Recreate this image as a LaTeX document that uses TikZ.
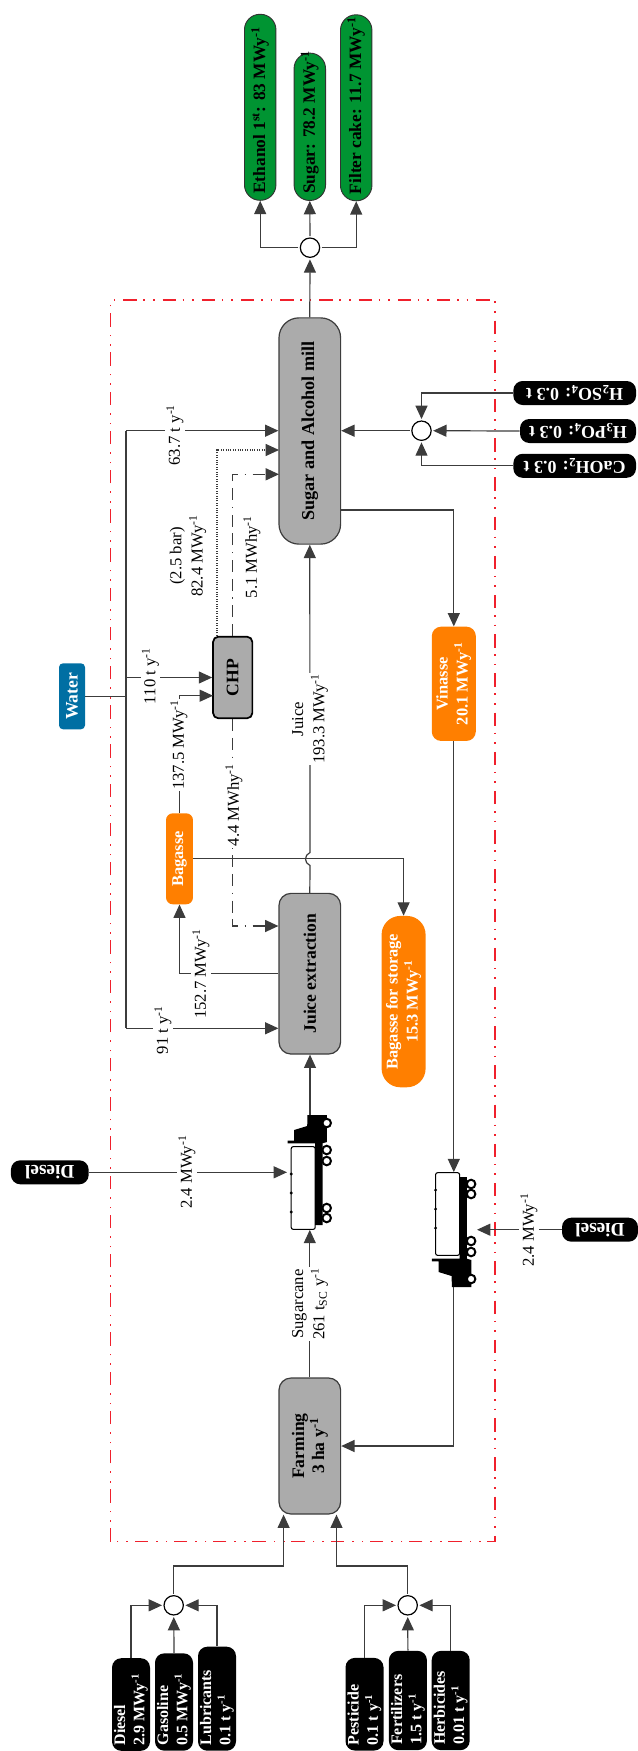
\documentclass[tikz,border=0pt]{standalone}
\usepackage{fontspec}
\setmainfont{Liberation Serif}
\usetikzlibrary{arrows.meta, calc}
\definecolor{procgray}{HTML}{ABABAB}
\definecolor{prodgreen}{HTML}{009432}
\definecolor{flowgray}{HTML}{3C3C3C}
\definecolor{wasteorange}{HTML}{FF7F00}
\definecolor{waterblue}{HTML}{006FA3}
\definecolor{limitred}{HTML}{F0202C}
\newcommand{\yinv}{y\textsuperscript{-1}}
\tikzset{
  vbox/.style={rotate=90, align=center, inner sep=0pt, font=\bfseries\fontsize{13.2}{15}\selectfont},
  proc/.style={vbox, draw=flowgray, fill=procgray, line width=0.9pt, rounded corners=9pt},
  prod/.style={vbox, draw=black!80, fill=prodgreen, line width=0.7pt, rounded corners=11.6pt, minimum height=23.6pt,
               align=flush left, inner xsep=5pt, font=\bfseries\fontsize{13}{15}\selectfont},
  waste/.style={vbox, fill=wasteorange, text=white, rounded corners=7pt, font=\bfseries\fontsize{12.3}{15}\selectfont},
  feed/.style={vbox, fill=black, text=white, rounded corners=7pt, minimum height=28.5pt, font=\bfseries\fontsize{12}{14.5}\selectfont},
  inflow/.style={feed, align=flush left, inner xsep=4pt},
  flip/.style={feed, rotate=90, minimum height=18pt, font=\bfseries\fontsize{13.5}{15}\selectfont},
  mix/.style={circle, draw=black, fill=white, line width=0.9pt, minimum size=14.5pt, inner sep=0pt, outer sep=1.5pt},
  flow/.style={-{Stealth[length=10pt, width=9pt, inset=0pt]}, line width=0.9pt, draw=flowgray},
  pipe/.style={line width=0.9pt, draw=flowgray},
  lbl/.style={rotate=90, align=center, fill=white, inner sep=1pt, font=\fontsize{12.5}{16}\selectfont},
  tankbox/.style={draw=black, fill=white, line width=0.8pt, rounded corners=1.5pt, inner sep=0pt, minimum width=18pt, minimum height=62pt},
  limit/.style={draw=limitred, line width=1.1pt, dash pattern=on 10pt off 5pt on 1.2pt off 6pt on 1.2pt off 6pt},
  steam/.style={densely dotted, line width=0.8pt, draw=flowgray},
  power/.style={line width=1.1pt, draw=flowgray, dash pattern=on 9pt off 5pt on 9pt off 5pt on 1pt off 5pt},
  pics/truck/.style={code={
    \fill[black] (4.3,-73) -- (23.7,-73) -- (23.7,-46) -- (19.3,-44.7) -- (19.3,37) -- (12,37) -- (12,-44.7)
      -- (-15.7,-44.7) -- (-15.7,-47.3) -- (-9,-47.3) -- (-9,-58) -- (4,-62) -- cycle;
    \foreach \wy in {-65,-38,-27,20,30}
      \draw[black, fill=white, line width=1.5pt] (23.5,\wy) circle (3.2pt);
    \foreach \wy in {-14,5,24}
      \fill[black] (-12,\wy) circle (1.2pt);
  }},
}
\begin{document}
\begin{tikzpicture}[x=0.75pt, y=-0.75pt]
  \useasboundingbox (0,0) rectangle (638,1751);
  \draw[limit] (110.7,1541.7) rectangle (494.8,300);

  % products
  \node[prod, text width=129.5pt] (ethanol) at (260.2,107.3) {\mbox{Ethanol 1\textsuperscript{st}: 83 MW\yinv}};
  \node[prod, text width=100.5pt] (sugar) at (309.8,126.8) {\mbox{Sugar: 78.2 MW\yinv}};
  \node[prod, text width=129.5pt] (filter) at (356.2,107.8) {\mbox{Filter cake: 11.7 MW\yinv}};
  \node[mix] (mixout) at (310,247.7) {};

  % process units
  \node[proc, rounded corners=15pt, minimum width=169.7pt, minimum height=46.2pt, font=\bfseries\fontsize{13.6}{15}\selectfont] (mill) at (309.8,431) {Sugar and Alcohol mill};
  \node[proc, minimum width=120.5pt, minimum height=46.2pt] (jext) at (309.8,973.7) {Juice extraction};
  \node[proc, minimum width=102pt, minimum height=46.2pt] (farm) at (309.8,1446) {Farming\\3 ha \yinv};
  \node[proc, line width=1.3pt, draw=black, rounded corners=4pt, minimum width=61.2pt, minimum height=29.5pt] (chp) at (232.7,677.5) {CHP};

  % by-products and water
  \node[waste, minimum width=68.2pt, minimum height=20.2pt, rounded corners=5pt] (bag) at (179.5,858.8) {Bagasse};
  \node[waste, minimum width=128.5pt, minimum height=33pt, rounded corners=14pt] (bagst) at (403.6,1001.6) {Bagasse for storage\\15.3 MW\yinv};
  \node[waste, minimum width=85.7pt, minimum height=33pt] (vin) at (453.8,683.8) {Vinasse\\20.1 MW\yinv};
  \node[vbox, fill=waterblue, text=white, rounded corners=3pt, minimum width=49.5pt, minimum height=19.5pt] (water) at (72,696.3) {Water};

  % feeds
  \node[inflow, text width=61.5pt] (fdiesel) at (131,1704.5) {Diesel\\2.9 MW\yinv};
  \node[inflow, text width=65pt] (fgas) at (174,1702) {Gasoline\\0.5 MW\yinv};
  \node[inflow, text width=70pt] (flub) at (217,1698.7) {Lubricants\\0.1 t \yinv};
  \node[inflow, text width=61.5pt] (fpest) at (364.5,1704.2) {Pesticide\\0.1 t \yinv};
  \node[inflow, text width=66.5pt] (ffert) at (407.9,1700.5) {Fertilizers\\1.5 t \yinv};
  \node[inflow, text width=66.5pt] (fherb) at (450.7,1700.5) {Herbicides\\0.01 t \yinv};
  \node[mix] (mixa) at (173.7,1605.3) {};
  \node[mix] (mixb) at (407.7,1605.3) {};

  \node[flip, minimum width=58.3pt, font=\bfseries\fontsize{14.5}{16}\selectfont] (dieselA) at (49.8,1172.3) {Diesel};
  \node[flip, minimum width=57pt, font=\bfseries\fontsize{14.5}{16}\selectfont] (dieselB) at (600,1229.7) {Diesel};
  \node[flip, minimum width=92pt] (acid) at (574.7,393) {H\textsubscript{2}SO\textsubscript{4}: 0.3 t};
  \node[flip, minimum width=87pt] (phos) at (578,431) {H\textsubscript{3}PO\textsubscript{4}: 0.3 t};
  \node[flip, minimum width=92pt] (lime) at (574.7,465.8) {CaOH\textsubscript{2}: 0.3 t};
  \node[mix] (mixin) at (421.5,430.7) {};

  % trucks
  \node[tankbox] (tankA) at (303.2,1188) {};
  \pic at (303.2,1188) {truck};
  \node[tankbox] (tankB) at (447.6,1214) {};
  \pic[yscale=-1] at (447.6,1214) {truck};

  \coordinate (cabA) at (310,1115);
  \coordinate (cabB) at (453.7,1287);
  \coordinate (truckA) at (287,1172.3);
  \coordinate (truckB) at (477,1229.7);
  \coordinate (bumpA) at (310,865.5);
  \coordinate (bumpB) at (310,852.5);
  \coordinate (wtop) at (126,430.7);
  \coordinate (wjoin) at (126,696.3);
  \coordinate (wbot) at (126,1028.3);
  \coordinate (rise) at (283.6,1566);
  \coordinate (riseb) at (336.5,1566);
  \coordinate (steamin) at (279,450);
  \coordinate (powin) at (279,474.3);
  \coordinate (powout) at (232.7,926);
  \coordinate (bagin) at (213,695.7);

  % outputs
  \draw[flow] (mill.east) -- (mixout);
  \draw[flow] (mixout) -| (ethanol.west);
  \draw[flow] (mixout) -- (sugar.west);
  \draw[flow] (mixout) -| (filter.west);

  % chemicals
  \draw[flow] (acid.east) -| (mixin);
  \draw[flow] (lime.east) -| (mixin);
  \draw[flow] (phos.east) -- (mixin);
  \draw[flow] (mixin) -- (mixin -| mill.south);

  % water
  \draw[pipe] (water) -- (wjoin);
  \draw[flow] (wbot |- wtop) -- (wtop -| mill.north);
  \draw[pipe] (wtop) -- (wbot);
  \draw[flow] (wbot) -- (wbot -| jext.north);
  \draw[flow] (chp -| wtop) -- (chp.north);
  \node[lbl] (lwa) at (175,435) {63.7 t \yinv};
  \node[lbl] (lwb) at (150.5,676) {110 t \yinv};
  \node[lbl] (lwc) at (163,1030) {91 t \yinv};

  % CHP
  \draw[steam, -{Stealth[length=10pt, width=9pt, inset=0pt]}] (chp.north east -| 217,0) -- (217,450) -- (steamin);
  \draw[power, -{Stealth[length=10pt, width=9pt, inset=0pt]}] (chp.east) |- (powin);
  \draw[power, -{Stealth[length=10pt, width=9pt, inset=0pt]}] (chp.west) |- (powout) -- (powout -| jext.north);
  \draw[flow] (bag.east) |- (bagin);
  \draw[flow] (jext.north) -| (bag.west);
  \node[lbl, fill=none] (lst) at (188,556) {(2.5 bar)\\82.4 MW\yinv};
  \node[lbl, fill=none] (lpa) at (252,557) {5.1 MWh\yinv};
  \node[lbl] (lpb) at (234,805) {4.4 MWh\yinv};
  \node[lbl] (lbg) at (179,745) {137.5 MW\yinv};
  \node[lbl] (lbj) at (201,974) {152.7 MW\yinv};

  % main line
  \draw[flow] (farm.east) -- (farm.east |- tankA.south);
  \draw[flow] (cabA) -- (cabA |- jext.west);
  \draw[flow] (jext.east) -- (bumpA) .. controls (304,863) and (304,855) .. (bumpB) -- (mill.west);
  \node[lbl] (ljc) at (310,719) {Juice\\193.3 MW\yinv};
  \node[lbl] (lsc) at (310,1304) {Sugarcane\\261 t\textsubscript{SC} \yinv};

  % residues
  \draw[flow] (bag.south) -| (bagst.east);
  \draw[flow] (mill.south |- 0,510) -| (vin.east);
  \draw[flow] (vin.west) -- (vin.west |- tankB.north);
  \draw[flow] (cabB) |- (farm.south);

  % diesel
  \draw[flow] (dieselA.west) -- (truckA);
  \draw[flow] (dieselB.east) -- (truckB);
  \node[lbl] (lda) at (187,1172) {2.4 MW\yinv};
  \node[lbl] (ldb) at (529,1230) {2.4 MW\yinv};

  % farm inputs
  \draw[flow] (fdiesel.east) |- (mixa);
  \draw[flow] (fgas.east) -- (mixa);
  \draw[flow] (flub.east) |- (mixa);
  \draw[flow] (fpest.east) |- (mixb);
  \draw[flow] (ffert.east) -- (mixb);
  \draw[flow] (fherb.east) |- (mixb);
  \draw[flow] (mixa) |- (rise) -- (rise |- farm.west);
  \draw[flow] (mixb) |- (riseb) -- (riseb |- farm.west);
\end{tikzpicture}
\end{document}
